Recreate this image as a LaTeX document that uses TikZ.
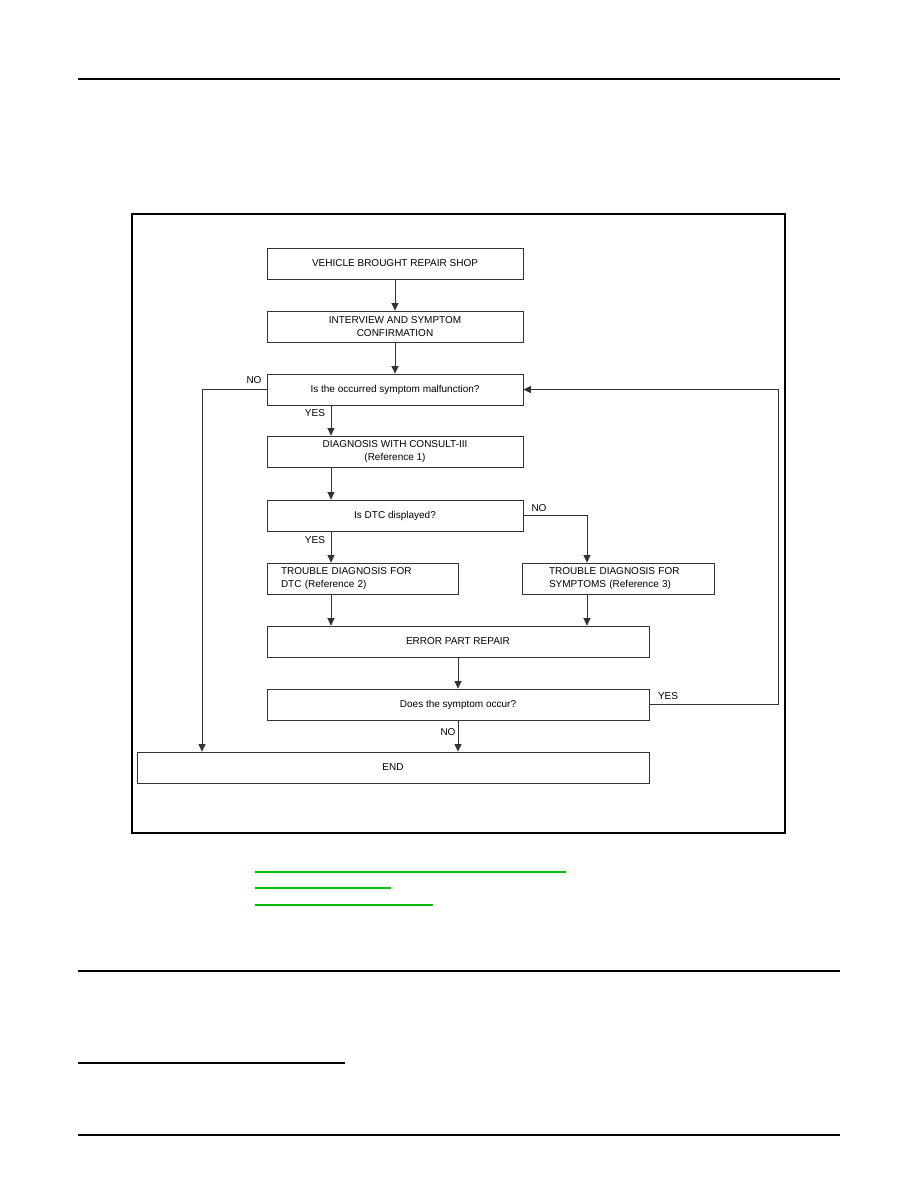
\documentclass[tikz,border=0pt]{standalone}
\usepackage{fontspec}
\setmainfont{Liberation Sans}
\usetikzlibrary{arrows.meta}

\begin{document}
\begin{tikzpicture}[x=1pt, y=-1pt,
    every node/.style={font=\fontsize{10}{13}\selectfont},
    box/.style={draw=black!80, line width=0.8pt, minimum height=31pt, inner sep=0pt, align=center},
    flow/.style={draw=black!80, line width=0.8pt, -{Triangle[length=7.5pt,width=7pt]}},
    link/.style={draw=green!75!black, line width=1.2pt}]
    \useasboundingbox (0,0) rectangle (918,1188);

    % Page rules
    \draw[line width=2pt] (78,79) -- (840,79);
    \draw[line width=1.1pt] (78,971) -- (840,971);
    \draw[line width=2.2pt] (78,1063) -- (345,1063);
    \draw[line width=1.1pt] (78,1135) -- (840,1135);

    % Frame round the chart
    \draw[line width=1.4pt] (132,214) rectangle (785,833);

    % Main column
    \foreach \n/\y/\txt in {b1/263.5/{VEHICLE BROUGHT REPAIR SHOP},
                            b2/326.5/{INTERVIEW AND SYMPTOM\\CONFIRMATION},
                            b3/389.5/{Is the occurred symptom malfunction?},
                            b4/451.5/{DIAGNOSIS WITH CONSULT-III\\(Reference 1)},
                            b5/515.5/{Is DTC displayed?}} {
        \node[box, minimum width=256pt] (\n) at (395,\y) {\txt};
    }

    % Two branches
    \node[box, text width=163pt, inner xsep=14pt, align=left] (b6) at (362.5,578.5)
        {TROUBLE DIAGNOSIS FOR\\DTC (Reference 2)};
    \node[box, text width=138pt, inner xsep=27pt, align=left] (b7) at (618,578.5)
        {TROUBLE DIAGNOSIS FOR\\SYMPTOMS (Reference 3)};

    \node[box, minimum width=382pt] (b8) at (458,641.5) {ERROR PART REPAIR};
    \node[box, minimum width=382pt] (b9) at (458,704.5) {Does the symptom occur?};
    \node[box, minimum width=512pt] (end) at (393,767.5) {END};

    % Line positions
    \coordinate (yesX) at (331,0);
    \coordinate (noX) at (587,0);
    \coordinate (leftX) at (202,0);
    \coordinate (loopX) at (778,0);

    % Connectors
    \draw[flow] (b1) -- (b2);
    \draw[flow] (b2) -- (b3);
    \draw[flow] (yesX |- b3.south) -- (yesX |- b4.north);
    \draw[flow] (yesX |- b4.south) -- (yesX |- b5.north);
    \draw[flow] (yesX |- b5.south) -- (yesX |- b6.north);
    \draw[flow] (b5.east) -- (noX |- b5.east) -- (noX |- b7.north);
    \draw[flow] (yesX |- b6.south) -- (yesX |- b8.north);
    \draw[flow] (noX |- b7.south) -- (noX |- b8.north);
    \draw[flow] (b8) -- (b9);
    \draw[flow] (b9.south) -- (b9.south |- end.north);
    \draw[flow] (b3.west) -- (leftX |- b3.west) -- (leftX |- end.north);
    \draw[flow] (b9.east) -- (loopX |- b9.east) -- (loopX |- b3.east) -- (b3.east);

    % YES / NO labels
    \node (noA) at (254,380) {NO};
    \node (yesA) at (315,413) {YES};
    \node (noB) at (539,508) {NO};
    \node (yesB) at (315,540) {YES};
    \node (yesC) at (668,696) {YES};
    \node (noC) at (448,732) {NO};

    % Reference links
    \draw[link] (255,872) -- (566,872);
    \draw[link] (255,888) -- (391,888);
    \draw[link] (255,905) -- (433,905);
\end{tikzpicture}
\end{document}
